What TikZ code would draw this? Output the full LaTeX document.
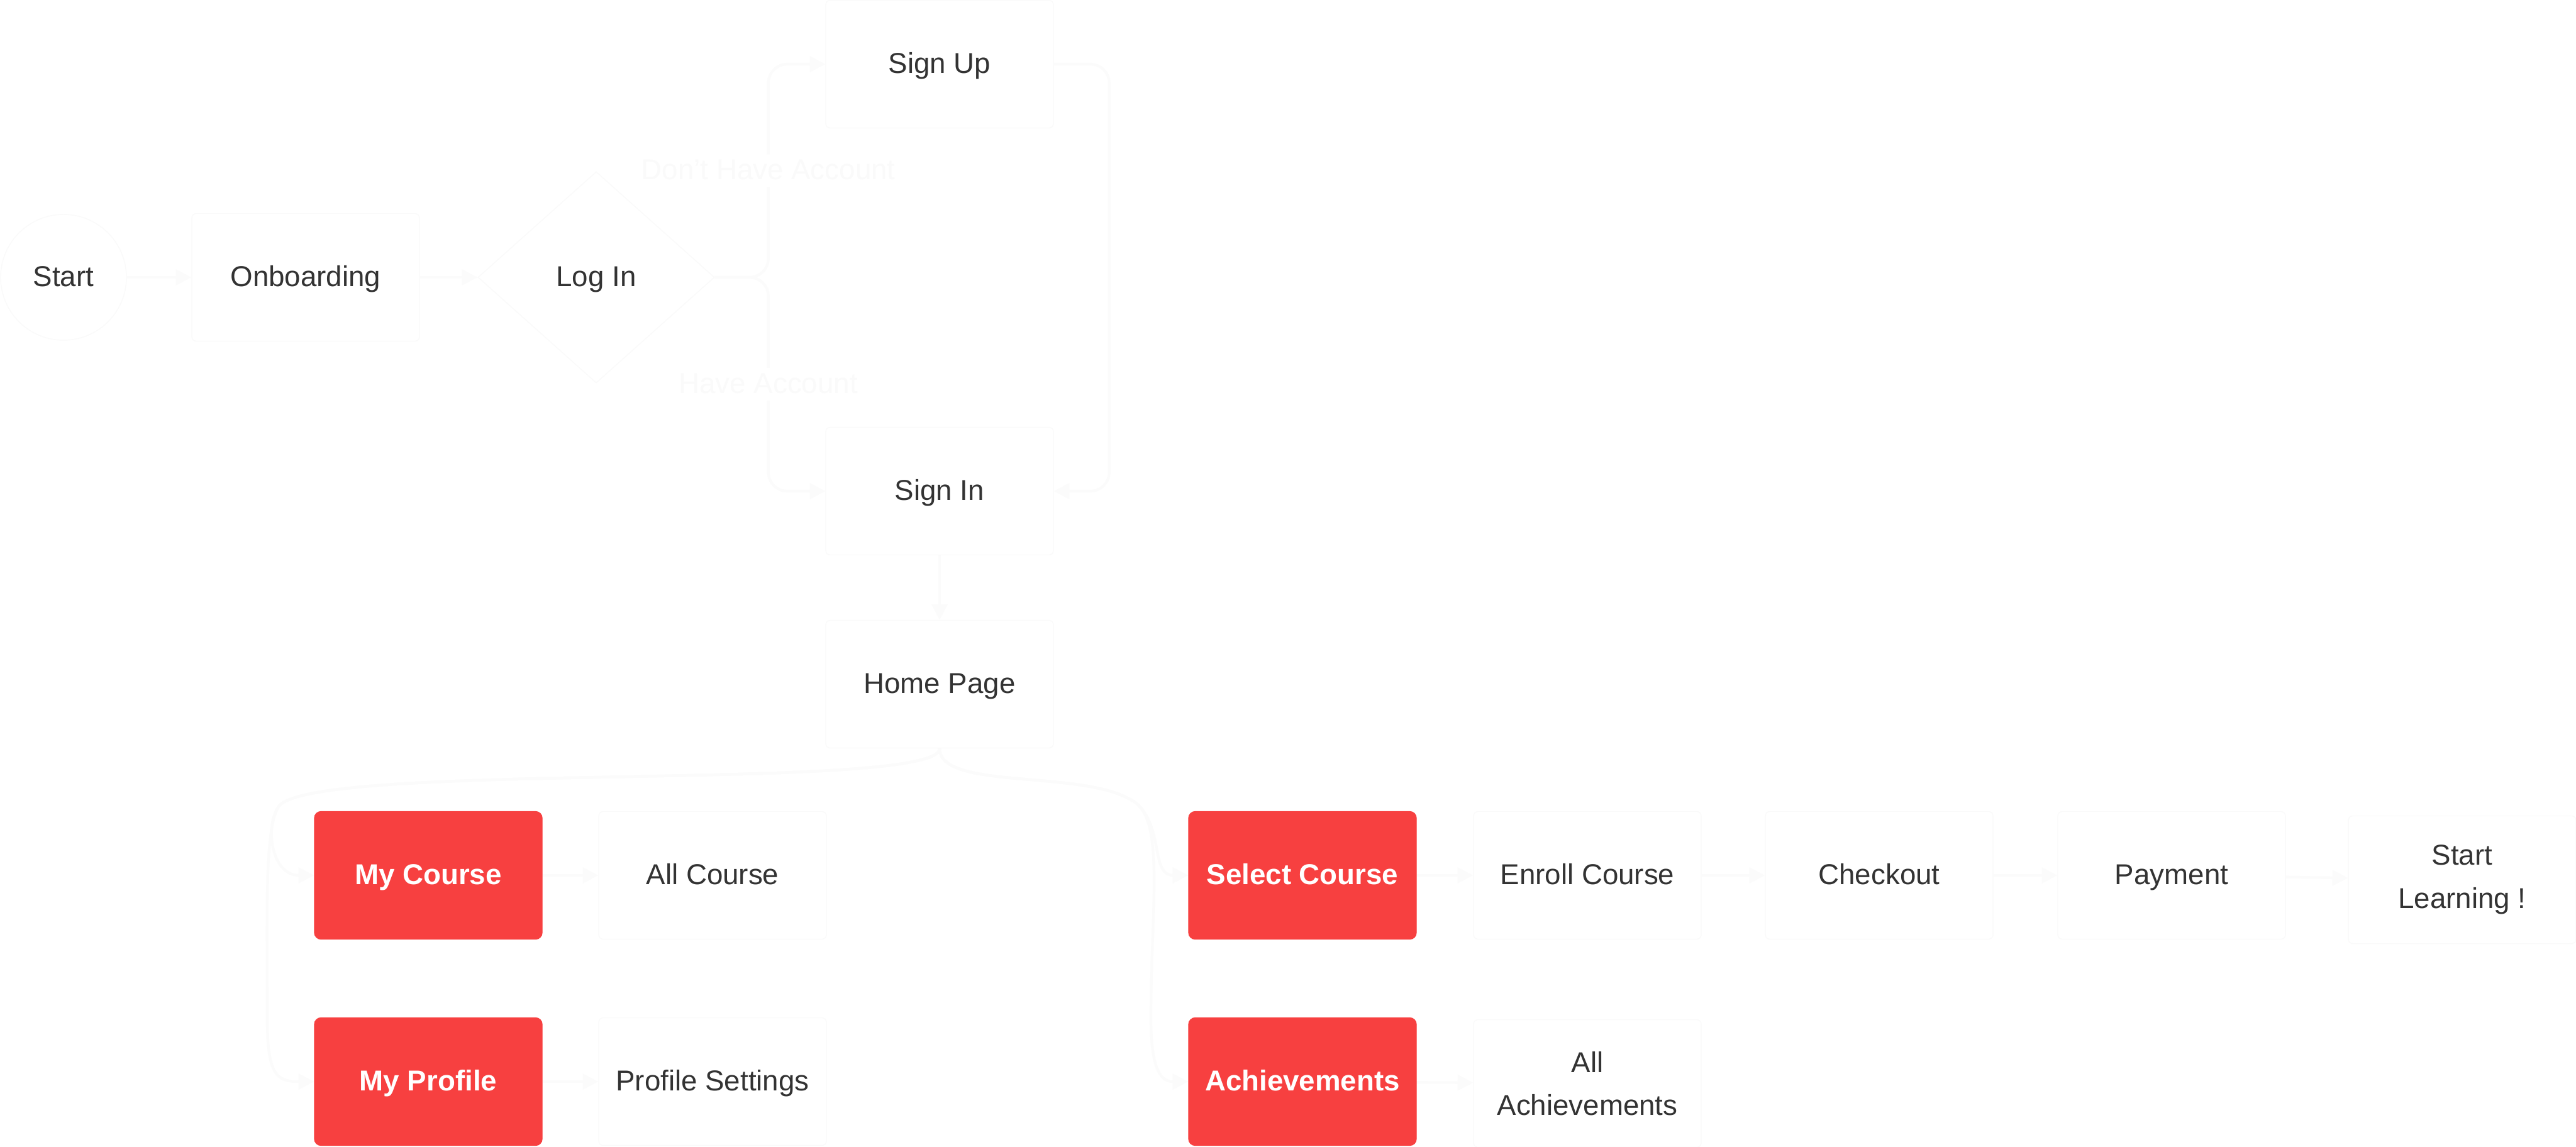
\documentclass[tikz,border=0pt]{standalone}
\usepackage{fontspec}
\setmainfont{Liberation Sans}
\usetikzlibrary{shapes.geometric,arrows.meta}
\pgfdeclarelayer{background}
\pgfsetlayers{background,main}
\definecolor{redbox}{HTML}{F74040}
\definecolor{txt}{HTML}{333333}
\definecolor{faint}{HTML}{FAFAFA}
\definecolor{edgec}{HTML}{FBFBFB}
\definecolor{lblc}{HTML}{FAFAFA}
\begin{document}
\begin{tikzpicture}[x=1cm,y=1cm,
  every node/.style={font=\fontsize{13pt}{19.5pt}\selectfont, text=txt},
  one/.style={text height=9.4pt, text depth=1.3pt},
  box/.style={rectangle, draw=faint, line width=0.4pt, fill=white, minimum width=3.62cm, minimum height=2.03cm, inner sep=0pt, align=center, rounded corners=2pt},
  redb/.style={rectangle, fill=redbox, draw=redbox, minimum width=3.62cm, minimum height=2.03cm, inner sep=0pt, rounded corners=3pt, text=white, font=\fontsize{13pt}{19.5pt}\selectfont\bfseries, one},
  startc/.style={circle, draw=faint, fill=white, line width=0.4pt, minimum size=2cm, inner sep=0pt, one},
  dec/.style={diamond, draw=faint, fill=white, line width=0.4pt, minimum width=3.76cm, minimum height=3.36cm, inner sep=0pt, aspect=1.12, one},
  conn/.style={draw=edgec, line width=1.2pt, -{Triangle[length=7pt,width=7pt]}},
  lbl/.style={text=lblc, fill=white, inner sep=2pt, one}
]
\path[use as bounding box] (0,0) rectangle (40.96,-18.23);

% top row
\node[startc] (start) at (1.01,-4.41) {Start};
\node[box, one] (onb) at (4.86,-4.41) {Onboarding};
\node[dec] (login) at (9.48,-4.41) {Log In};
\node[box, one] (signup) at (14.94,-1.02) {Sign Up};
\node[box, one] (signin) at (14.94,-7.81) {Sign In};
\node[box, one] (home) at (14.94,-10.88) {Home Page};

% lower rows
\node[redb] (mycourse) at (6.81,-13.92) {My Course};
\node[box, one] (allcourse) at (11.33,-13.92) {All Course};
\node[redb] (myprofile) at (6.81,-17.20) {My Profile};
\node[box, one] (profset) at (11.33,-17.20) {Profile Settings};

\node[redb] (selcourse) at (20.71,-13.92) {Select Course};
\node[box, one] (enroll) at (25.24,-13.92) {Enroll Course};
\node[box, one] (checkout) at (29.88,-13.92) {Checkout};
\node[box, one] (payment) at (34.53,-13.92) {Payment};
\node[box] (startlearn) at (39.15,-13.99) {Start\\Learning !};
\node[redb] (achieve) at (20.71,-17.20) {Achievements};
\node[box] (allach) at (25.24,-17.23) {All\\Achievements};

\begin{pgfonlayer}{background}
\fill[white] (0,0) rectangle (40.96,-18.23);
\draw[conn] (start) -- (onb);
\draw[conn] (onb) -- (login);
\draw[conn, rounded corners=0.3cm] (login.east) -- ++(0.85,0) |- (signup.west)
  node[lbl, pos=0.25] {Don't Have Account};
\draw[conn, rounded corners=0.3cm] (login.east) -- ++(0.85,0) |- (signin.west)
  node[lbl, pos=0.25] {Have Account};
\draw[conn, rounded corners=0.3cm] (signup.east) -- ++(0.88,0) |- (signin.east);
\draw[conn] (signin) -- (home);

\draw[conn] (home.south) .. controls (14.94,-12.6) and (5.2,-12.1) .. (4.45,-12.8)
  .. controls (4.2,-13.1) and (4.3,-13.92) .. (mycourse.west);
\draw[conn] (home.south) .. controls (14.94,-12.6) and (5.2,-12.1) .. (4.45,-12.8)
  .. controls (4.2,-13.1) and (4.25,-14.5) .. (4.25,-16.2)
  .. controls (4.25,-17.1) and (4.4,-17.2) .. (myprofile.west);
\draw[conn] (home.south) .. controls (14.94,-12.6) and (17.4,-12.2) .. (18.1,-12.8)
  .. controls (18.5,-13.2) and (18.3,-13.92) .. (selcourse.west);
\draw[conn] (home.south) .. controls (14.94,-12.6) and (17.4,-12.2) .. (18.1,-12.8)
  .. controls (18.5,-13.2) and (18.3,-14.5) .. (18.3,-16.2)
  .. controls (18.3,-17.1) and (18.5,-17.2) .. (achieve.west);

\draw[conn] (mycourse) -- (allcourse);
\draw[conn] (myprofile) -- (profset);
\draw[conn] (selcourse) -- (enroll);
\draw[conn] (enroll) -- (checkout);
\draw[conn] (checkout) -- (payment);
\draw[conn] (payment) -- (startlearn);
\draw[conn] (achieve) -- (allach);
\end{pgfonlayer}
\end{tikzpicture}
\end{document}
